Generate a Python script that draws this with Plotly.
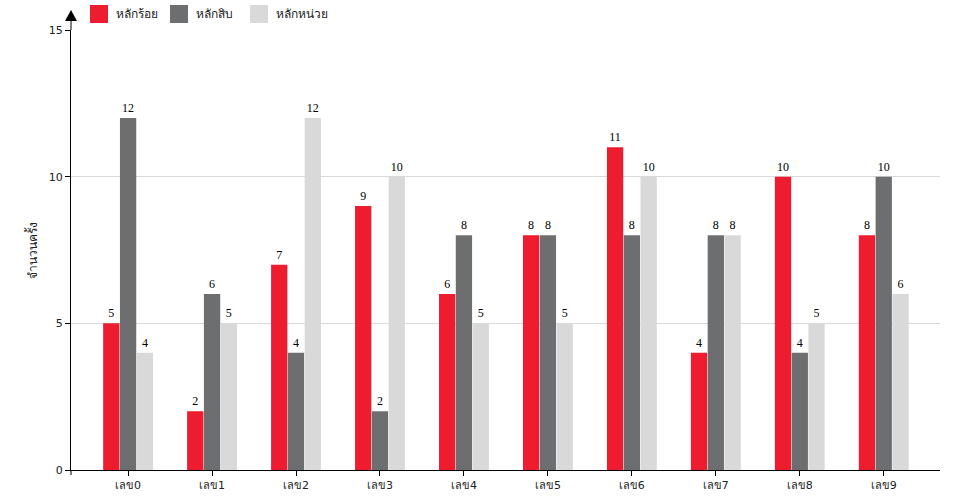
import plotly.graph_objects as go

categories = ["เลข0", "เลข1", "เลข2", "เลข3", "เลข4", "เลข5", "เลข6", "เลข7", "เลข8", "เลข9"]
series_names = ["หลักร้อย", "หลักสิบ", "หลักหน่วย"]
hundreds = [5, 2, 7, 9, 6, 8, 11, 4, 10, 8]
tens = [12, 6, 4, 2, 8, 8, 8, 8, 4, 10]
units = [4, 5, 12, 10, 5, 5, 10, 8, 5, 6]
y_ticks = [0, 5, 10, 15]
colors = ["#ED1C2E", "#6D6E70", "#D9D9D9"]

fig = go.Figure()
for name, vals, col in zip(series_names, [hundreds, tens, units], colors):
    fig.add_trace(go.Bar(
        x=categories, y=vals, name=name, marker_color=col,
        marker_line_width=0, showlegend=False,
        text=[str(v) for v in vals], textposition="outside",
        textfont=dict(family="Liberation Serif", size=12, color="#000"),
        cliponaxis=False,
    ))

W, H = 960, 500
ml, mr, mt, mb = 71, 20, 30, 30
pw, ph = W - ml - mr, H - mt - mb

def px(x):
    return (x - ml) / pw

def py(y):
    return (H - mb - y) / ph

fig.update_layout(
    width=W, height=H,
    margin=dict(l=ml, r=mr, t=mt, b=mb, autoexpand=False),
    plot_bgcolor="white", paper_bgcolor="white",
    barmode="group", bargap=0.4, bargroupgap=0.03,
    font=dict(family="DejaVu Sans", size=11, color="#222"),
    xaxis=dict(range=[-0.68, 9.67], showline=True, linecolor="black", linewidth=1,
               ticks="outside", ticklen=5, tickcolor="black", showgrid=False,
               tickfont=dict(size=11), automargin=False),
    yaxis=dict(range=[0, 15], tickvals=y_ticks, showline=True, linecolor="black", linewidth=1,
               ticks="outside", ticklen=5, tickcolor="black", showgrid=True,
               gridcolor="#d9d9d9", zeroline=False, tickfont=dict(size=11), automargin=False,
               title=dict(text="จำนวนครั้ง", font=dict(size=12), standoff=8)),
)

# manual legend
for i, (name, col) in enumerate(zip(series_names, colors)):
    x0 = 90 + 80 * i
    fig.add_shape(type="rect", xref="paper", yref="paper",
                  x0=px(x0), x1=px(x0 + 18), y0=py(23), y1=py(5),
                  fillcolor=col, line=dict(width=0))
    fig.add_annotation(xref="paper", yref="paper", x=px(x0 + 24), y=py(14),
                       text=name, showarrow=False, xanchor="left", yanchor="middle",
                       font=dict(size=12, color="#222"))

# y axis extension and arrowhead
fig.add_shape(type="line", xref="paper", yref="paper", x0=0, x1=0, y0=1, y1=py(18),
              line=dict(color="black", width=1))
dx = 6 / pw
fig.add_shape(type="path", xref="paper", yref="paper",
              path=f"M {-dx} {py(21)} L {dx} {py(21)} L 0 {py(10)} Z",
              fillcolor="black", line=dict(color="black", width=0))
# left-end tick on x axis
fig.add_shape(type="line", xref="paper", yref="paper", x0=0, x1=0, y0=0, y1=py(475),
              line=dict(color="black", width=1))

fig.write_html("out.html", config={"displayModeBar": False},
               post_script="document.body.style.margin='0';document.body.style.overflow='hidden';")
